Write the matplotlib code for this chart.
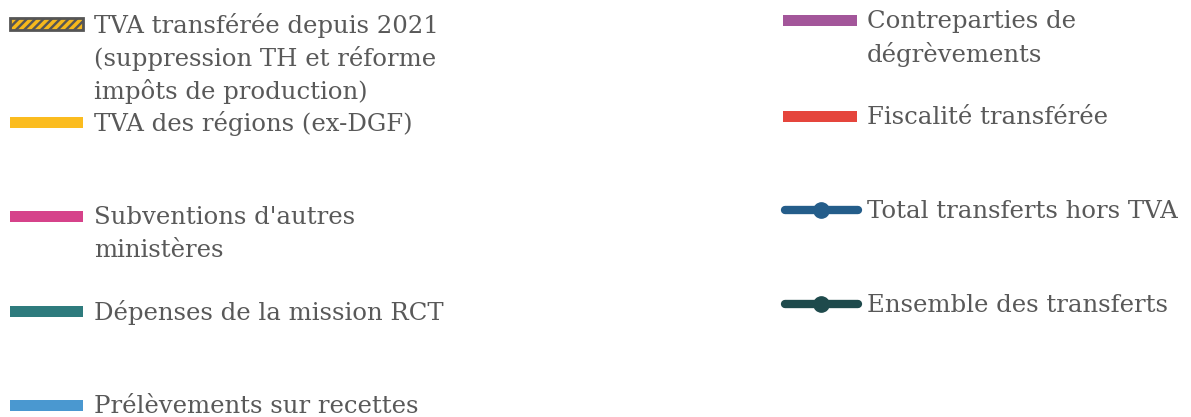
import matplotlib.pyplot as plt
from matplotlib.patches import Rectangle

# legend entries (left column, right column)
left_labels = [
    "TVA transférée depuis 2021\n(suppression TH et réforme\nimpôts de production)",
    "TVA des régions (ex-DGF)",
    "Subventions d'autres\nministères",
    "Dépenses de la mission RCT",
    "Prélèvements sur recettes",
]
left_colors = ["#f5b81c", "#fbbc1f", "#d6428a", "#2e7b7d", "#4a98d0"]
left_hatch = [True, False, False, False, False]

right_labels = [
    "Contreparties de\ndégrèvements",
    "Fiscalité transférée",
    "Total transferts hors TVA",
    "Ensemble des transferts",
]
right_colors = ["#a3569a", "#e5453c", "#245d8a", "#1e4a4c"]
right_kind = ["patch", "patch", "line", "line"]

text_color = "#595959"
font = "DejaVu Serif"
fs = 17.6

plt.rcParams["hatch.linewidth"] = 2.5

fig = plt.figure(figsize=(11.91, 4.17), dpi=100)
ax = fig.add_axes([0, 0, 1, 1])
ax.set_xlim(0, 1191)
ax.set_ylim(417, 0)
ax.axis("off")

# row positions (pixels from top)
left_y = [24, 122, 216, 311, 405]
right_y = [20, 116, 210, 304]


def put_text(x, y, lab):
    # one text per line so the first line sits level with the handle
    for i, line in enumerate(lab.split("\n")):
        ax.text(x, y + i * 33, line, color=text_color, fontsize=fs,
                family=font, va="center_baseline", ha="left")


for lab, col, hat, y in zip(left_labels, left_colors, left_hatch, left_y):
    if hat:
        ax.add_patch(Rectangle((10, y - 6), 73, 12, facecolor="#555555",
                               edgecolor=col, hatch="////", lw=0))
        ax.add_patch(Rectangle((10, y - 6), 73, 12, facecolor="none",
                               edgecolor="#555555", lw=2))
    else:
        ax.add_patch(Rectangle((10, y - 5.5), 73, 11, facecolor=col, edgecolor="none"))
    put_text(94, y - 1, lab)

for lab, col, kind, y in zip(right_labels, right_colors, right_kind, right_y):
    if kind == "patch":
        ax.add_patch(Rectangle((783, y - 5.5), 74, 11, facecolor=col, edgecolor="none"))
    else:
        ax.plot([785, 858], [y, y], color=col, lw=6, solid_capstyle="round")
        ax.plot([821], [y], "o", color=col, markersize=11)
    put_text(867, y - 1, lab)

fig.savefig("out.png", dpi=100)
